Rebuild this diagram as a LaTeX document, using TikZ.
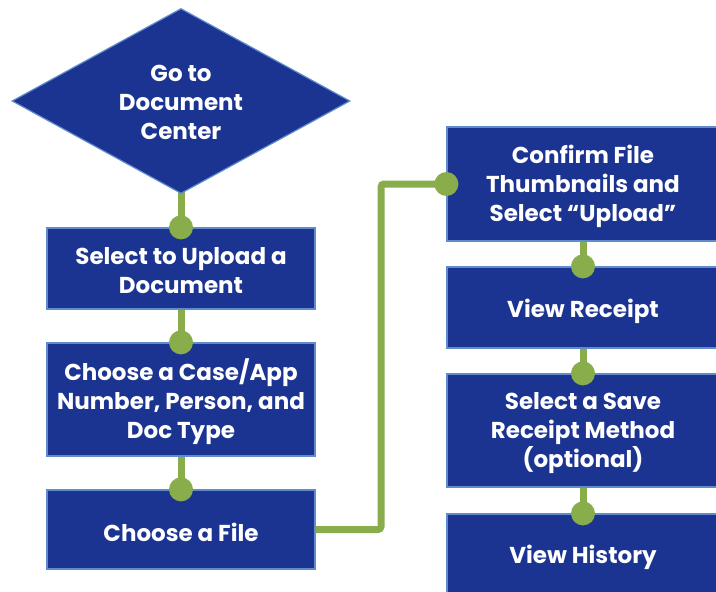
\documentclass[tikz,border=0pt]{standalone}
\usepackage{fontspec}
\setmainfont{Poppins}
\usetikzlibrary{shapes.geometric,calc}

\definecolor{stepblue}{RGB}{28,52,145}
\definecolor{edgeblue}{RGB}{95,140,205}
\definecolor{linkgreen}{RGB}{137,173,75}

\tikzset{
  stepbox/.style={rectangle, draw=edgeblue, line width=1.2pt, fill=stepblue,
    inner sep=0pt},
  steptext/.style={text=white, align=center, inner sep=0pt, yshift=-2.5pt,
    font=\fontsize{23}{29}\selectfont\bfseries},
  leftbox/.style={stepbox, minimum width=268pt},
  rightbox/.style={stepbox, minimum width=272pt},
  startshape/.style={stepbox, diamond, minimum width=338pt, minimum height=185pt,
    shape aspect=1.83},
  link/.style={draw=linkgreen, line width=7pt},
  joint/.style={fill=linkgreen}
}

\begin{document}
\begin{tikzpicture}[x=1pt, y=-1pt]
  \useasboundingbox (0,0) rectangle (716,592);
  \clip (0,0) rectangle (716,592);

  % connectors sit behind the boxes
  \coordinate (dstart) at (181,101);
  \coordinate (b1c) at (181,268.5);
  \coordinate (b2c) at (181,399.5);
  \coordinate (b3c) at (181,529.5);
  \coordinate (r1c) at (583,184);
  \coordinate (r2c) at (583,307.5);
  \coordinate (r3c) at (583,430.5);
  \coordinate (r4c) at (583,554.5);

  \draw[link] (dstart) -- (b1c);
  \draw[link] (b1c) -- (b2c);
  \draw[link] (b2c) -- (b3c);
  \draw[link] (r1c) -- (r2c);
  \draw[link] (r2c) -- (r3c);
  \draw[link] (r3c) -- (r4c);

  % left column
  \node[startshape, label={[steptext, yshift=1.5pt]center:Go to\\Document\\Center}] (start) at (dstart) {};
  \node[leftbox, minimum height=81pt,
    label={[steptext]center:Select to Upload a\\Document}] (upload) at (b1c) {};
  \node[leftbox, minimum height=113pt,
    label={[steptext]center:Choose a Case/App\\Number, Person, and\\Doc Type}] (casetype) at (b2c) {};
  \node[leftbox, minimum height=79pt,
    label={[steptext]center:Choose a File}] (file) at (b3c) {};

  % right column
  \node[rightbox, minimum height=114pt,
    label={[steptext]center:Confirm File\\Thumbnails and\\Select “Upload”}] (confirm) at (r1c) {};
  \node[rightbox, minimum height=81pt,
    label={[steptext, yshift=-1pt]center:View Receipt}] (receipt) at (r2c) {};
  \node[rightbox, minimum height=113pt,
    label={[steptext]center:Select a Save\\Receipt Method\\(optional)}] (savemethod) at (r3c) {};
  \node[rightbox, minimum height=81pt,
    label={[steptext]center:View History}] (history) at (r4c) {};

  % elbow between the columns
  \coordinate (bend) at ($(file.east)!0.5!(confirm.west)$);
  \draw[link, rounded corners=3pt] (file.east) -| (bend) |- (confirm.west);

  % joints where each connector meets the next step
  \fill[joint] (upload.north) circle (12pt);
  \fill[joint] (casetype.north) circle (12pt);
  \fill[joint] (file.north) circle (12pt);
  \fill[joint] (confirm.west) circle (12pt);
  \fill[joint] (receipt.north) circle (12pt);
  \fill[joint] (savemethod.north) circle (12pt);
  \fill[joint] (history.north) circle (12pt);
\end{tikzpicture}
\end{document}
